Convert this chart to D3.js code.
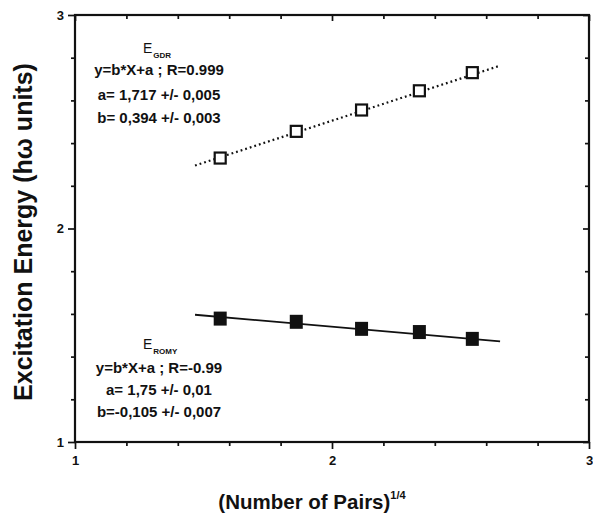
<!DOCTYPE html>
<html>
<head>
<meta charset="utf-8">
<script src="https://cdn.jsdelivr.net/npm/d3@7"></script>
<style>
  html, body { margin: 0; padding: 0; background: #fff; }
  svg { display: block; }
  text { font-family: "Liberation Sans", Arial, Helvetica, sans-serif; fill: #111; }
</style>
</head>
<body>
<svg id="chart" width="593" height="522"></svg>
<script>
// (Number of pairs)^(1/4) for each configuration
const pairsRoot = [1.565, 1.861, 2.115, 2.340, 2.546];
// Excitation energies in units of h-omega
const gdrEnergy = [2.330, 2.455, 2.555, 2.645, 2.730];
const romyEnergy = [1.578, 1.563, 1.530, 1.515, 1.483];
// Linear fits y = b*X + a
const gdrFit = { a: 1.717, b: 0.394, from: 1.467, to: 2.650 };
const romyFit = { a: 1.75, b: -0.105, from: 1.467, to: 2.654 };
const majorTicks = [1, 2, 3];
const minorTicks = [1.2, 1.4, 1.6, 1.8, 2.2, 2.4, 2.6, 2.8];

const W = 593, H = 522;
const margin = { top: 15, right: 4, bottom: 80, left: 75 };
const svg = d3.select("#chart");

const x = d3.scaleLinear().domain([1, 3]).range([margin.left, W - margin.right]);
const y = d3.scaleLinear().domain([1, 3]).range([H - margin.bottom, margin.top]);

const fmt = d3.format("d");

function styleAxis(g) {
  g.select(".domain").remove();
  g.selectAll(".tick line").attr("stroke", "#111").attr("stroke-width", 1.7);
  g.selectAll(".tick text")
    .style("font-size", "13px").style("font-weight", "bold");
}

// bottom axis
svg.append("g").attr("transform", `translate(0,${y(1)})`)
  .call(d3.axisBottom(x).tickValues(majorTicks).tickFormat(fmt).tickSize(7).tickPadding(7))
  .call(styleAxis);
svg.append("g").attr("transform", `translate(0,${y(1)})`)
  .call(d3.axisBottom(x).tickValues(minorTicks).tickFormat("").tickSize(4))
  .call(styleAxis);
// top axis (inward ticks)
svg.append("g").attr("transform", `translate(0,${y(3)})`)
  .call(d3.axisBottom(x).tickValues(majorTicks).tickFormat("").tickSize(6))
  .call(styleAxis);
svg.append("g").attr("transform", `translate(0,${y(3)})`)
  .call(d3.axisBottom(x).tickValues(minorTicks).tickFormat("").tickSize(4))
  .call(styleAxis);
// left axis
svg.append("g").attr("transform", `translate(${x(1)},0)`)
  .call(d3.axisLeft(y).tickValues(majorTicks).tickFormat(fmt).tickSize(7).tickPadding(4))
  .call(styleAxis);
svg.append("g").attr("transform", `translate(${x(1)},0)`)
  .call(d3.axisLeft(y).tickValues(minorTicks).tickFormat("").tickSize(4))
  .call(styleAxis);
// right axis (inward ticks)
svg.append("g").attr("transform", `translate(${x(3)},0)`)
  .call(d3.axisLeft(y).tickValues(majorTicks).tickFormat("").tickSize(6))
  .call(styleAxis);
svg.append("g").attr("transform", `translate(${x(3)},0)`)
  .call(d3.axisLeft(y).tickValues(minorTicks).tickFormat("").tickSize(4))
  .call(styleAxis);

// frame
svg.append("rect")
  .attr("x", x(1)).attr("y", y(3))
  .attr("width", x(3) - x(1)).attr("height", y(1) - y(3))
  .attr("fill", "none").attr("stroke", "#111").attr("stroke-width", 2.2);

// fit lines
function fitLine(fit) {
  return [[fit.from, fit.a + fit.b * fit.from], [fit.to, fit.a + fit.b * fit.to]];
}
const line = d3.line().x(d => x(d[0])).y(d => y(d[1]));
svg.append("path").datum(fitLine(gdrFit)).attr("d", line)
  .attr("fill", "none").attr("stroke", "#111").attr("stroke-width", 2.2)
  .attr("stroke-dasharray", "1.8 3");
svg.append("path").datum(fitLine(romyFit)).attr("d", line)
  .attr("fill", "none").attr("stroke", "#111").attr("stroke-width", 1.8);

// markers
const S = 11;
const gdrPts = pairsRoot.map((v, i) => [v, gdrEnergy[i]]);
const romyPts = pairsRoot.map((v, i) => [v, romyEnergy[i]]);
svg.append("g").selectAll("rect").data(gdrPts).join("rect")
  .attr("x", d => x(d[0]) - S / 2).attr("y", d => y(d[1]) - S / 2)
  .attr("width", S).attr("height", S)
  .attr("fill", "#fff").attr("stroke", "#111").attr("stroke-width", 2.2);
svg.append("g").selectAll("rect").data(romyPts).join("rect")
  .attr("x", d => x(d[0]) - 6.5).attr("y", d => y(d[1]) - 7)
  .attr("width", 13).attr("height", 14)
  .attr("fill", "#111");

// fit annotations
function annotation(cx, eY, sub, lines, lineY) {
  const e = svg.append("text").attr("x", cx - 16).attr("y", eY)
    .style("font-size", "14px");
  e.append("tspan").text("E");
  e.append("tspan").attr("dy", 5).attr("dx", 1)
    .style("font-size", "8px").style("font-weight", "bold").text(sub);
  lines.forEach((t, i) => {
    svg.append("text").attr("x", cx).attr("y", lineY[i])
      .attr("text-anchor", "middle")
      .style("font-size", "15px").style("font-weight", "bold")
      .text(t);
  });
}
annotation(159, 53, "GDR",
  ["y=b*X+a ; R=0.999", "a= 1,717 +/- 0,005", "b= 0,394 +/- 0,003"],
  [75, 100, 123]);
annotation(159, 349, "ROMY",
  ["y=b*X+a ; R=-0.99", "a= 1,75 +/- 0,01", "b=-0,105 +/- 0,007"],
  [373, 395, 417]);

// axis titles
const xt = svg.append("text").attr("x", 312).attr("y", 509)
  .attr("text-anchor", "middle")
  .style("font-size", "20.5px").style("font-weight", "bold");
xt.append("tspan").text("(Number of Pairs)");
xt.append("tspan").attr("dy", -10).style("font-size", "11px").text("1/4");

svg.append("text")
  .attr("transform", `translate(32,${232}) rotate(-90)`)
  .attr("text-anchor", "middle")
  .style("font-size", "25px").style("font-weight", "bold")
  .text("Excitation Energy (h\u03C9 units)");
</script>
</body>
</html>
